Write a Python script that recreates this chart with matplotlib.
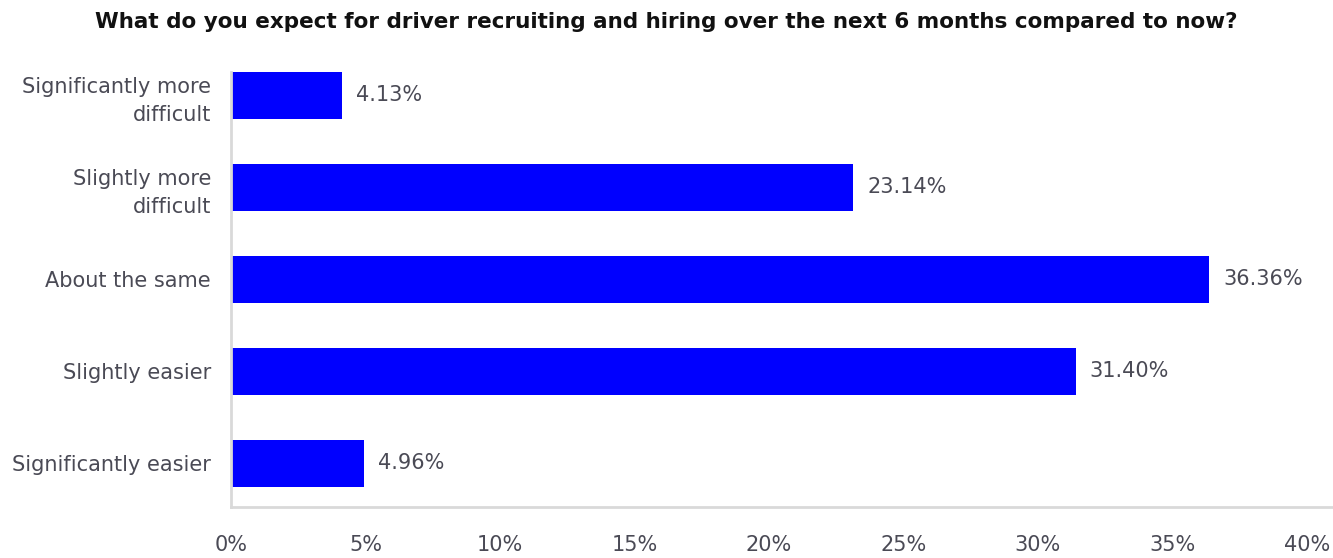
import matplotlib
matplotlib.use("Agg")
import matplotlib.pyplot as plt

categories = [
    "Significantly more\ndifficult",
    "Slightly more\ndifficult",
    "About the same",
    "Slightly easier",
    "Significantly easier",
]
values = [4.13, 23.14, 36.36, 31.40, 4.96]
x_ticks = [0, 5, 10, 15, 20, 25, 30, 35, 40]
x_tick_labels = [f"{t}%" for t in x_ticks]
title = "What do you expect for driver recruiting and hiring over the next 6 months compared to now?"

BAR_COLOR = "#0000FF"
TEXT_COLOR = "#4a4a55"
AXIS_COLOR = "#d9d9d9"

plt.rcParams["font.family"] = ["DejaVu Sans"]

fig = plt.figure(figsize=(13.33, 5.58), dpi=100)
ax = fig.add_axes([231 / 1333, 1 - 507 / 558, 1 - 231 / 1333, (507 - 72) / 558])

y = list(range(len(categories)))
bars = ax.barh(y, values, height=0.51, color=BAR_COLOR)

ax.set_ylim(4.473, -0.255)
ax.set_xlim(0, 40.97)

ax.set_yticks(y)
ax.set_yticklabels(categories, fontsize=15, color=TEXT_COLOR, linespacing=1.45)
ax.set_xticks(x_ticks)
ax.set_xticklabels(x_tick_labels, fontsize=15, color=TEXT_COLOR)
ax.tick_params(axis="y", length=0, pad=14.4)
ax.tick_params(axis="x", length=0, pad=20)

for side in ("top", "right"):
    ax.spines[side].set_visible(False)
for side in ("left", "bottom"):
    ax.spines[side].set_color(AXIS_COLOR)
    ax.spines[side].set_linewidth(2)

for bar, v in zip(bars, values):
    ax.annotate(f"{v:.2f}%", xy=(bar.get_width(), bar.get_y() + bar.get_height() / 2),
                xytext=(10, 0), textcoords="offset points", va="center", ha="left",
                fontsize=15, color=TEXT_COLOR)

fig.text(0.5, 1 - 22 / 558, title, ha="center", va="center", fontsize=15.5,
         fontweight="bold", color="#111111")

fig.savefig("out.png", dpi=100)
